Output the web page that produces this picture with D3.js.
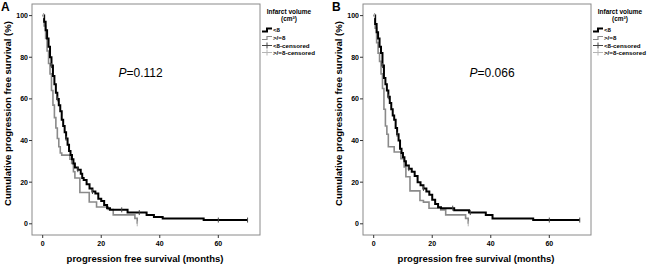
<!DOCTYPE html>
<html>
<head>
<meta charset="utf-8">
<script src="https://cdn.jsdelivr.net/npm/d3@7"></script>
<style>
  body { margin: 0; background: #fff; }
  text { font-family: Arial, "Liberation Sans", sans-serif; fill: #000; }
</style>
</head>
<body>
<div id="chart"></div>
<script>
const width = 650,
      height = 265;

// Panel A: survival steps (months, %)
const timesA_low = [0, 0.5, 1, 1.5, 2, 2.5, 3, 3.5, 4, 4.5, 5, 5.5, 6, 6.5, 7, 7.5, 8, 8.5, 9, 9.5, 10, 10.5, 11, 12, 13, 13.5, 14, 15, 16, 17, 18, 19, 20, 21, 22, 23, 29, 35.5, 38, 41, 55, 70]
const survA_low  = [100, 97, 93, 89, 85, 80, 76, 71, 67, 63, 60, 57, 54, 50, 47, 44, 41, 38, 35, 33, 31, 29, 27, 26, 24, 22, 21, 19, 17, 15.5, 14.5, 12, 11, 9, 7.5, 6.7, 5.4, 4.2, 3.3, 2.6, 1.8, 1.8]
const timesA_high = [0, 0.5, 1, 1.5, 2, 2.5, 3, 3.5, 4, 4.5, 5, 5.5, 6, 6.5, 9.3, 9.9, 10.5, 11, 12.7, 15.9, 18.4, 22.4, 24.1, 31.5, 32.3]
const survA_high  = [100, 95, 89, 83, 77, 72, 64, 57, 51, 46, 41, 37, 34, 33, 31, 29, 25, 22, 15, 10.5, 8.1, 6.9, 4.3, 2.6, 0]

// Panel B
const timesB_low = [0, 0.5, 1, 1.5, 2, 2.5, 3, 3.5, 4, 4.5, 5, 5.5, 6, 6.5, 7, 7.5, 8, 8.5, 9, 9.5, 10, 10.5, 11, 12, 13, 14, 15, 16, 17, 18, 19, 20, 21, 22, 23, 27.5, 32.6, 38.3, 40.6, 54.5, 70.4]
const survB_low  = [100, 96, 92, 89, 85, 82, 76, 70, 67, 64, 61, 58, 55, 52, 50, 46, 43, 40, 36, 34, 32, 30, 28, 26.5, 25, 23, 20, 18.5, 17, 15.5, 14, 11.5, 9.5, 8, 7.5, 6.5, 5.4, 4.2, 2.6, 1.8, 1.8]
const timesB_high = [0, 0.5, 1, 1.5, 2, 2.5, 3, 3.5, 4, 4.5, 5, 7, 9.3, 10.4, 11, 12.4, 15.8, 17, 18.9, 22.9, 24.6, 31.4, 32.3]
const survB_high  = [100, 94, 87, 82, 78, 72, 65, 55, 47, 43, 37, 34.5, 31.3, 27.3, 22.6, 15.8, 11.2, 10.4, 7.5, 6.7, 4.3, 2.6, 0]

// censored times
const censorA_low = [0.3, 3, 5, 8, 12, 17, 27, 33, 60, 70]
const censorA_high = [0.3, 32.3]
const censorB_low = [0.3, 3, 5, 8, 12, 17, 27, 33, 60, 70.4]
const censorB_high = [0.3, 32.3]

const pValues = ["0.112", "0.066"]
const panelLabels = ["A", "B"]
const xTicks = [0, 20, 40, 60]
const yTicks = [0, 20, 40, 60, 80, 100]
const legendTitle = ["Infarct volume", "(cm\u00b3)"]
const legendItems = ["<8", ">/=8", "<8-censored", ">/=8-censored"]

const black = "#000", grey = "#8a8a8a", lightGrey = "#b5b5b5";

const svg = d3.select("#chart")
            .append("svg")
            .attr("width", width)
            .attr("height", height)

const boxW = 228, boxH = 231;

const x = d3.scaleLinear().domain([0, 60]).range([10.7, 186.3])
const y = d3.scaleLinear().domain([0, 100]).range([219.8, 11.6])

function survAt(times, surv, t) {
  let v = surv[0]
  times.forEach((tt, i) => { if (tt <= t) v = surv[i] })
  return v
}

function drawPanel(px, idx, tLow, sLow, tHigh, sHigh, cLow, cHigh) {
  const g = svg.append("g").attr("transform", `translate(${px},4)`)

  g.append("rect")
    .attr("x", 0).attr("y", 0)
    .attr("width", boxW).attr("height", boxH)
    .attr("fill", "none")
    .attr("stroke", "#8a8a8a")
    .attr("stroke-width", 1)

  // y ticks
  const yt = g.append("g")
  yt.selectAll("line").data(yTicks).join("line")
    .attr("x1", -3).attr("x2", 0)
    .attr("y1", d => y(d)).attr("y2", d => y(d))
    .attr("stroke", "#333")
  yt.selectAll("text").data(yTicks).join("text")
    .attr("x", -4).attr("y", d => y(d) + 2.5)
    .attr("text-anchor", "end")
    .style("font-size", "7px").style("font-weight", "bold")
    .text(d => d)

  const xt = g.append("g")
  xt.selectAll("line").data(xTicks).join("line")
    .attr("x1", d => x(d)).attr("x2", d => x(d))
    .attr("y1", boxH).attr("y2", boxH + 3)
    .attr("stroke", "#333")
  xt.selectAll("text").data(xTicks).join("text")
    .attr("x", d => x(d)).attr("y", boxH + 11)
    .attr("text-anchor", "middle")
    .style("font-size", "7px").style("font-weight", "bold")
    .text(d => d)

  const line = d3.line()
    .x(d => x(d[0]))
    .y(d => y(d[1]))
    .curve(d3.curveStepAfter)

  g.append("path")
    .datum(d3.zip(tHigh, sHigh))
    .attr("d", line)
    .attr("fill", "none")
    .attr("stroke", grey)
    .attr("stroke-width", 1.6)

  g.append("path")
    .datum(d3.zip(tLow, sLow))
    .attr("d", line)
    .attr("fill", "none")
    .attr("stroke", black)
    .attr("stroke-width", 2)

  // censor marks
  g.selectAll(".cl").data(cLow).join("line")
    .attr("x1", d => x(d)).attr("x2", d => x(d))
    .attr("y1", d => y(survAt(tLow, sLow, d)) - 2.5)
    .attr("y2", d => y(survAt(tLow, sLow, d)) + 2.5)
    .attr("stroke", "#444").attr("stroke-width", 1)
  g.selectAll(".ch").data(cHigh).join("line")
    .attr("x1", d => x(d)).attr("x2", d => x(d))
    .attr("y1", d => y(survAt(tHigh, sHigh, d)) - 2.5)
    .attr("y2", d => y(survAt(tHigh, sHigh, d)) + 2.5)
    .attr("stroke", lightGrey).attr("stroke-width", 1)

  // p value
  const pt = g.append("text")
    .attr("x", idx === 0 ? 86.5 : 106.5).attr("y", 72.5)
    .style("font-size", "12px")
  pt.append("tspan").style("font-style", "italic").text("P")
  pt.append("tspan").text("=" + pValues[idx])

  // panel letter
  svg.append("text")
    .attr("x", px - 31).attr("y", 11)
    .style("font-size", "12px").style("font-weight", "bold")
    .text(panelLabels[idx])

  // axis titles
  svg.append("text")
    .attr("transform", `translate(${px - 21},${4 + boxH / 2 - 6}) rotate(-90)`)
    .attr("text-anchor", "middle")
    .style("font-size", "9.5px").style("font-weight", "bold")
    .text("Cumulative progression free survival (%)")
  svg.append("text")
    .attr("x", px + 113).attr("y", 262)
    .attr("text-anchor", "middle")
    .style("font-size", "9.5px").style("font-weight", "bold")
    .text("progression free survival (months)")

  // legend
  const lg = svg.append("g").attr("transform", `translate(${px + boxW + 2},0)`)
  lg.selectAll(".lt").data(legendTitle).join("text")
    .attr("x", 27).attr("y", (d, i) => 13.5 + i * 7)
    .attr("text-anchor", "middle")
    .style("font-size", "6.5px").style("font-weight", "bold")
    .text(d => d)

  const rowY = [30, 38, 45.5, 52.5]
  const stepIcon = d => `M0,${d + 1.5}H5V${d - 1.5}H10`
  lg.append("path").attr("d", stepIcon(rowY[0]))
    .attr("fill", "none").attr("stroke", black).attr("stroke-width", 2)
  lg.append("path").attr("d", stepIcon(rowY[1]))
    .attr("fill", "none").attr("stroke", grey).attr("stroke-width", 1.2)
  ;[[rowY[2], "#444"], [rowY[3], lightGrey]].forEach(([ry, c]) => {
    lg.append("line").attr("x1", 0).attr("x2", 10).attr("y1", ry).attr("y2", ry)
      .attr("stroke", c).attr("stroke-width", 1)
    lg.append("line").attr("x1", 5).attr("x2", 5).attr("y1", ry - 3).attr("y2", ry + 3)
      .attr("stroke", c).attr("stroke-width", 1)
  })
  lg.selectAll(".li").data(legendItems).join("text")
    .attr("x", 11).attr("y", (d, i) => rowY[i] + 2.2)
    .style("font-size", "6.2px").style("font-weight", "bold")
    .text(d => d)
}

drawPanel(32, 0, timesA_low, survA_low, timesA_high, survA_high, censorA_low, censorA_high)
drawPanel(363, 1, timesB_low, survB_low, timesB_high, survB_high, censorB_low, censorB_high)
</script>
</body>
</html>
